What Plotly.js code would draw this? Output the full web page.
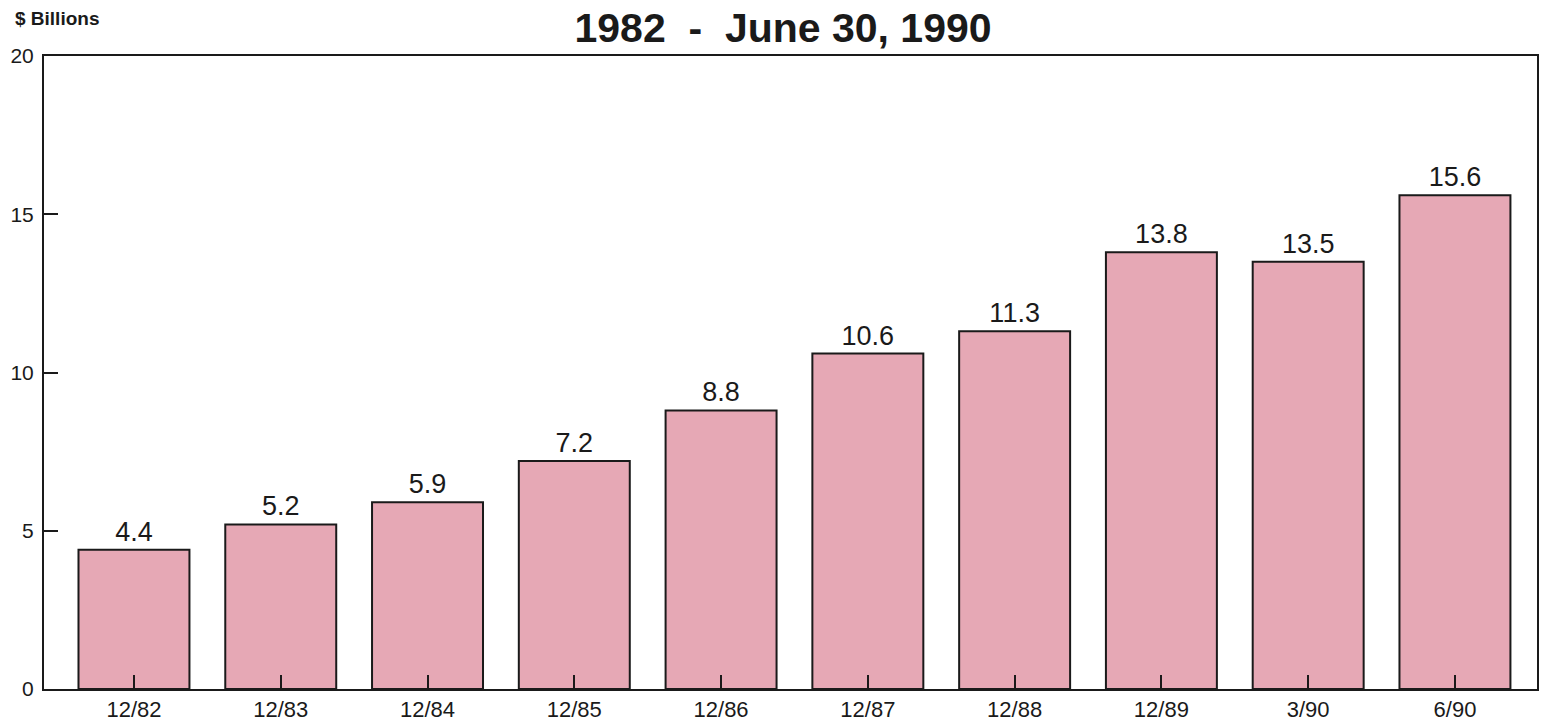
<!DOCTYPE html>
<html>
<head>
<meta charset="utf-8">
<script src="https://cdn.plot.ly/plotly-3.0.1.min.js"></script>
<style>html,body{margin:0;padding:0;background:#fff;}#chart{width:1545px;height:724px;}</style>
</head>
<body>
<div id="chart"></div>
<script>
var categories = ["12/82","12/83","12/84","12/85","12/86","12/87","12/88","12/89","3/90","6/90"];
var values = [4.4, 5.2, 5.9, 7.2, 8.8, 10.6, 11.3, 13.8, 13.5, 15.6];
var valueLabels = ["4.4","5.2","5.9","7.2","8.8","10.6","11.3","13.8","13.5","15.6"];
var yTicks = [0, 5, 10, 15, 20];

var trace = {
  type: "bar",
  x: categories,
  y: values,
  text: valueLabels,
  textposition: "outside",
  constraintext: "none",
  cliponaxis: false,
  textfont: {family: "Liberation Sans, Arial, sans-serif", size: 27, color: "#1a1a1a"},
  width: 0.756,
  marker: {color: "#e6a8b5", line: {color: "#1a1a1a", width: 2}},
  hoverinfo: "none"
};

var layout = {
  width: 1545, height: 724,
  margin: {l: 44, r: 8, t: 56, b: 35},
  paper_bgcolor: "#ffffff",
  plot_bgcolor: "#ffffff",
  showlegend: false,
  font: {family: "Liberation Sans, Arial, sans-serif", color: "#1a1a1a"},
  title: {
    text: "<b>1982  -  June 30, 1990</b>",
    font: {family: "Liberation Sans, Arial, sans-serif", size: 41, color: "#1a1a1a"},
    x: 0.495, xref: "paper", xanchor: "center",
    y: 0.962, yref: "container", yanchor: "middle"
  },
  xaxis: {
    type: "category",
    range: [-0.613, 9.559],
    showline: true, linecolor: "#1a1a1a", linewidth: 2, mirror: true,
    ticks: "inside", ticklen: 14, tickwidth: 2, tickcolor: "#1a1a1a",
    tickfont: {size: 22, color: "#1a1a1a"},
    showgrid: false, zeroline: false, fixedrange: true
  },
  yaxis: {
    range: [0, 20],
    tickvals: yTicks,
    ticktext: yTicks.map(String),
    showline: true, linecolor: "#1a1a1a", linewidth: 2, mirror: true,
    ticks: "inside", ticklen: 14, tickwidth: 2, tickcolor: "#1a1a1a",
    tickfont: {size: 21, color: "#1a1a1a"},
    ticklabelstandoff: 4,
    showgrid: false, zeroline: false, fixedrange: true
  },
  annotations: [{
    text: "<b>$ Billions</b>",
    xref: "paper", yref: "paper",
    x: -0.021, y: 1.06, xanchor: "left", yanchor: "middle",
    showarrow: false,
    font: {family: "Liberation Sans, Arial, sans-serif", size: 19, color: "#1a1a1a"}
  }]
};

Plotly.newPlot("chart", [trace], layout, {displayModeBar: false, staticPlot: true});
</script>
</body>
</html>
